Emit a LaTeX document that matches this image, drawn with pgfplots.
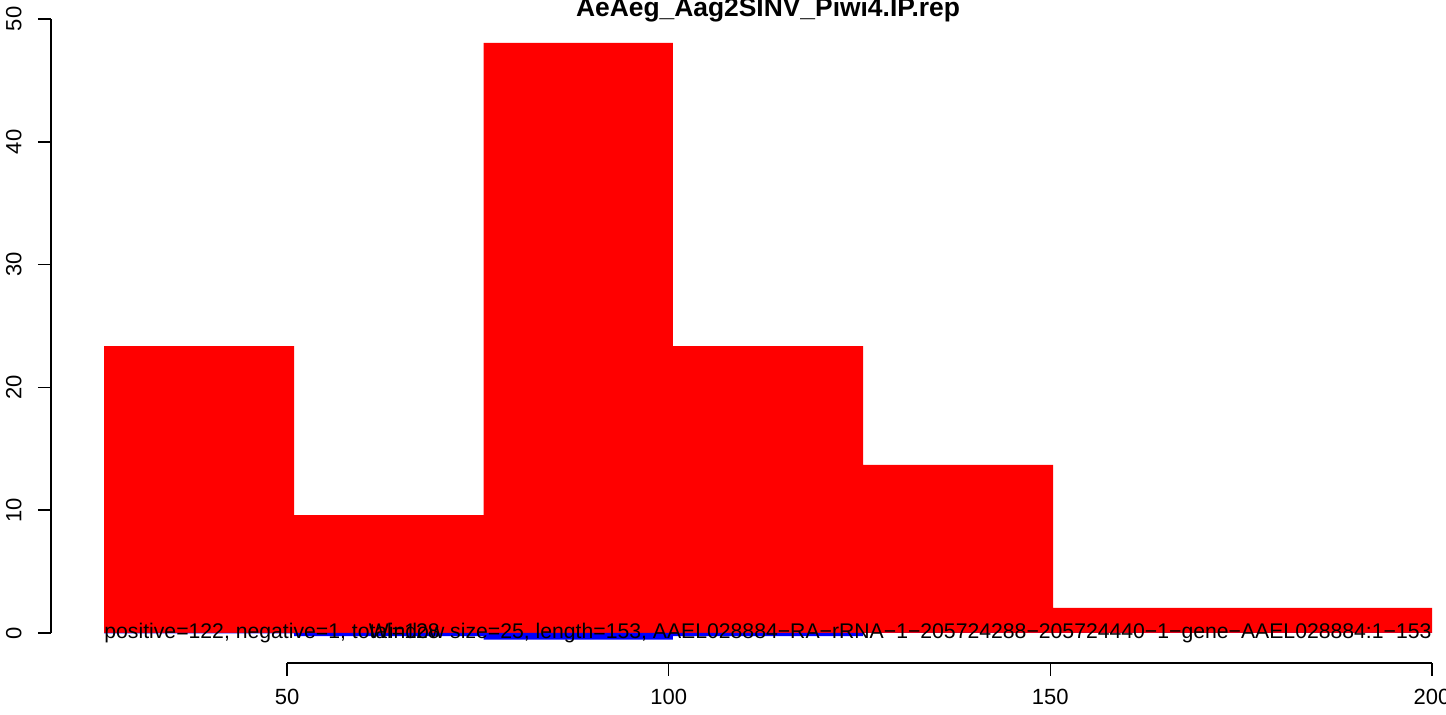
\documentclass[border=0pt]{standalone}
\usepackage{fontspec}
\setmainfont{Liberation Sans}
\usepackage{pgfplots}
\pgfplotsset{compat=1.18}
\begin{document}
\begin{tikzpicture}
\useasboundingbox (0pt,0pt) rectangle (723pt,357.5pt);
% main bars
\begin{axis}[at={(52pt,10.3pt)}, anchor=south west, scale only axis,
  width=664pt, height=337.7pt, xmin=26, xmax=200, ymin=-5, ymax=50,
  hide axis, clip=false]
\addplot[fill=red, draw=none, const plot] coordinates {
 (26,23.37) (50.9,9.6) (75.73,48.05) (100.55,23.37) (125.45,13.68) (150.35,2.04) (200,2.04)} \closedcycle;
\addplot[fill=blue, draw=none, const plot] coordinates {
 (26,-0.03) (50.9,-0.25) (75.73,-0.55) (100.55,-0.25) (125.45,0) (150.35,0) (200,0)} \closedcycle;
\node[anchor=west, inner sep=0pt, font=\fontsize{10.6}{12.5}\selectfont] at (axis cs:26,0) {positive=122, negative=1, total=128};
\node[anchor=east, inner sep=0pt, font=\fontsize{10.6}{12.5}\selectfont] at (axis cs:200,0) {Window size=25, length=153, AAEL028884−RA−rRNA−1−205724288−205724440−1−gene−AAEL028884:1−153};
\end{axis}
% y axis
\begin{axis}[at={(25.5pt,41pt)}, anchor=south west, scale only axis,
  width=10pt, height=307pt, xmin=0, xmax=1, ymin=0, ymax=50,
  axis y line*=left, axis x line=none,
  ytick={0,10,20,30,40,50}, tick align=outside, major tick length=6.5pt,
  tick style={line width=0.8pt, black}, axis line style={line width=0.8pt, black},
  /pgf/number format/assume math mode=true,
  yticklabel style={font=\fontsize{11}{13}\selectfont, rotate=90, anchor=south, inner sep=0pt},
  yticklabel shift=8pt]
\end{axis}
% x axis
\begin{axis}[at={(143.5pt,26pt)}, anchor=south west, scale only axis,
  width=572.5pt, height=10pt, xmin=50, xmax=200, ymin=0, ymax=1,
  axis x line*=bottom, axis y line=none,
  xtick={50,100,150,200}, tick align=outside, major tick length=6.5pt,
  tick style={line width=0.8pt, black}, axis line style={line width=0.8pt, black},
  /pgf/number format/assume math mode=true,
  xticklabel style={font=\fontsize{11}{13}\selectfont, inner sep=0pt, anchor=north},
  xticklabel shift=6.5pt]
\end{axis}
\node[anchor=base, font=\bfseries\fontsize{13.2}{15}\selectfont] at (384pt,349pt) {AeAeg\_Aag2SINV\_Piwi4.IP.rep};
\end{tikzpicture}
\end{document}
